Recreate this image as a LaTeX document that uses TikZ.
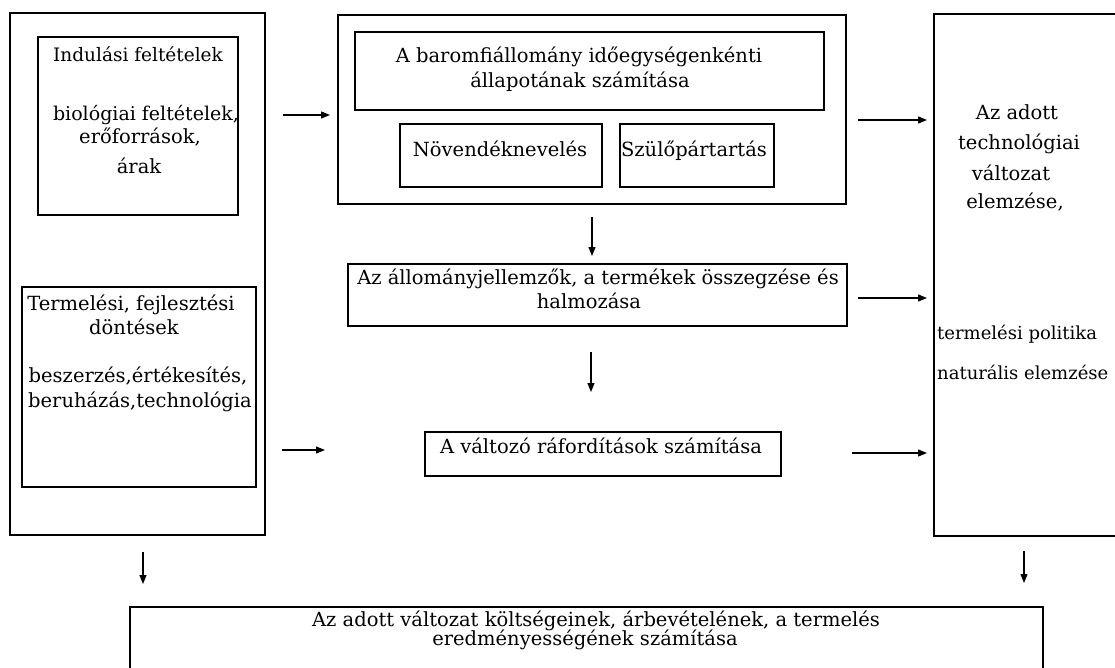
\documentclass[tikz,border=0pt]{standalone}
\usepackage{fontspec}
\setmainfont{DejaVu Serif}
\usetikzlibrary{arrows.meta}
\begin{document}
\begin{tikzpicture}[x=1pt,y=-1pt,
  box/.style={draw=black, line width=1.3pt, inner sep=0pt, outer sep=0pt, anchor=north west},
  txt/.style={inner sep=0pt, anchor=mid, font=\fontsize{19.5}{23}\selectfont},
  txtl/.style={txt, anchor=mid west},
  arr/.style={-{Triangle[length=9pt,width=7pt]}, line width=1.2pt}]
\useasboundingbox (0,0) rectangle (1115,668);
\fill[white] (0,0) rectangle (1115,668);
% boxes
\node[box, minimum width=255pt, minimum height=522pt] (lbox) at (10,13) {};
\node[box, minimum width=200pt, minimum height=178pt] (ind) at (38,37) {};
\node[box, minimum width=234pt, minimum height=200pt] (term) at (22,287) {};
\node[box, minimum width=508pt, minimum height=189pt] (mid) at (338,15) {};
\node[box, minimum width=469pt, minimum height=78pt] (midtop) at (355,32) {};
\node[box, minimum width=202pt, minimum height=63pt] (nov) at (400,124) {};
\node[box, minimum width=154pt, minimum height=63pt] (szul) at (620,124) {};
\node[box, minimum width=200pt, minimum height=522pt] (rbox) at (934,14) {};
\node[box, minimum width=499pt, minimum height=62pt] (ossz) at (348,264) {};
\node[box, minimum width=356pt, minimum height=44pt] (valt) at (425,432) {};
\node[box, minimum width=913pt, minimum height=100pt] (bot) at (130,607) {};
% texts
\node[txt, font=\fontsize{18.5}{22}\selectfont] (t1) at (138,59) {Indulási feltételek};
\node[txt, font=\fontsize{19}{23}\selectfont] (t2) at (146,118) {biológiai feltételek,};
\node[txt] (t3) at (140,141) {erőforrások,};
\node[txt] (t4) at (139,171) {árak};
\node[txt] (t5) at (131,308) {Termelési, fejlesztési};
\node[txt] (t6) at (134,332) {döntések};
\node[txt] (t7) at (138,380) {beszerzés,értékesítés,};
\node[txt] (t8) at (140,405) {beruházás,technológia};
\node[txt] (t9) at (579,60) {A baromfiállomány időegységenkénti};
\node[txt] (t10) at (580,85) {állapotának számítása};
\node[txt] (t11) at (500,154) {Növendéknevelés};
\node[txt] (t12) at (694,154) {Szülőpártartás};
\node[txt] (t13) at (598,282) {Az állományjellemzők, a termékek összegzése és};
\node[txt] (t14) at (589,306) {halmozása};
\node[txt] (t15) at (601,451) {A változó ráfordítások számítása};
\node[txt] (t16) at (1017,117) {Az adott};
\node[txt] (t17) at (1019,147) {technológiai};
\node[txt] (t18) at (1011,178) {változat};
\node[txt] (t19) at (1015,206) {elemzése,};
\node[txtl, font=\fontsize{18}{22}\selectfont] (t20) at (937,337) {termelési politika};
\node[txtl, font=\fontsize{18}{22}\selectfont] (t21) at (937,377) {naturális elemzése};
\node[txt] (t22) at (596,624) {Az adott változat költségeinek, árbevételének, a termelés};
\node[txt] (t23) at (585,643) {eredményességének számítása};
% helper coordinates
\coordinate (yA) at (0,115);
\coordinate (yB) at (0,120);
\coordinate (yC) at (0,298);
\coordinate (yD) at (0,450);
\coordinate (yE) at (0,453);
\coordinate (xV1) at (592,0);
\coordinate (xV2) at (591,0);
\coordinate (xV3) at (143,0);
\coordinate (xV4) at (1024,0);
% connectors
\draw[arr, shorten <=18pt, shorten >=8pt] (lbox.east |- yA) -- (mid.west |- yA);
\draw[arr, shorten <=12pt, shorten >=7pt] (mid.east |- yB) -- (rbox.west |- yB);
\draw[arr, shorten <=11pt, shorten >=7pt] (ossz.east |- yC) -- (rbox.west |- yC);
\draw[arr, shorten <=17pt, shorten >=100pt] (lbox.east |- yD) -- (valt.west |- yD);
\draw[arr, shorten <=71pt, shorten >=7pt] (valt.east |- yE) -- (rbox.west |- yE);
\draw[arr, shorten <=13pt, shorten >=8pt] (xV1 |- mid.south) -- (xV1 |- ossz.north);
\draw[arr, shorten <=26pt, shorten >=40pt] (xV2 |- ossz.south) -- (xV2 |- valt.north);
\draw[arr, shorten <=17pt, shorten >=23pt] (xV3 |- lbox.south) -- (xV3 |- bot.north);
\draw[arr, shorten <=15pt, shorten >=24pt] (xV4 |- rbox.south) -- (xV4 |- bot.north);
\end{tikzpicture}
\end{document}
